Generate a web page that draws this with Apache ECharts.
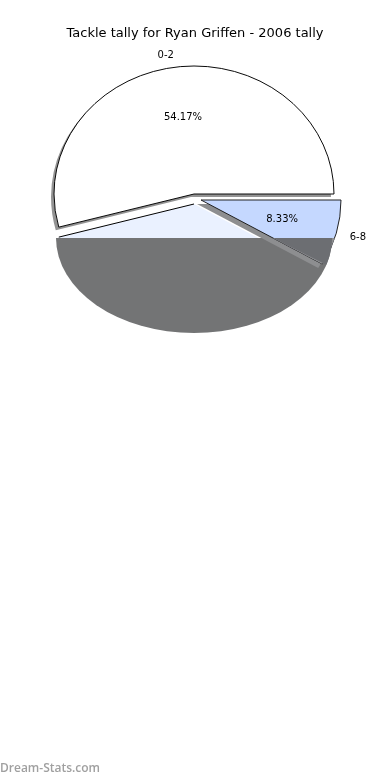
<!DOCTYPE html>
<html>
<head>
<meta charset="utf-8">
<script src="https://cdn.jsdelivr.net/npm/echarts@6/dist/echarts.min.js"></script>
<style>
html,body{margin:0;padding:0;background:#fff;}
#chart{width:390px;height:780px;}
</style>
</head>
<body>
<div id="chart"></div>
<script>
// ---- data ----
const titleText = 'Tackle tally for Ryan Griffen - 2006 tally';
const categories = ['0-2', '3-5', '6-8'];
const tallies = [13, 9, 2];
const showLabel = [true, false, true];
const watermark = 'Dream-Stats.com';

// ---- layout / style (not data) ----
const CX = 194, CY = 194, RX = 140, RY = 128;
const explode = [[0, 0], [0, 10], [7, 6]];
const fills = ['#ffffff', '#eaf1ff', '#c5d8ff'];
const OVER_TOP = 238, OVER_RX = 138, OVER_RY = 95;
const FONT = 'DejaVu Sans';
const RAD = Math.PI / 180;

const total = tallies.reduce((a, b) => a + b, 0);
const cum = [0];
tallies.forEach((v, i) => cum.push(cum[i] + v));

function ellPt(cx, cy, deg, f) {
  return [cx + f * RX * Math.cos(deg * RAD), cy - f * RY * Math.sin(deg * RAD)];
}
function sector(cx, cy, a0, a1, style, z2) {
  return {
    type: 'sector', x: cx, y: cy, scaleY: RY / RX,
    shape: { cx: 0, cy: 0, r0: 0, r: RX, startAngle: -a0 * RAD, endAngle: -a1 * RAD, clockwise: false },
    style: Object.assign({ strokeNoScale: true }, style), z2: z2
  };
}
function inOverlay(p) {
  const dx = (p[0] - CX) / OVER_RX, dy = (p[1] - OVER_TOP) / OVER_RY;
  return dx * dx + dy * dy <= 1;
}

function renderItem(params, api) {
  const i = params.dataIndex;
  const a0 = 360 * cum[i] / total;
  const a1 = 360 * cum[i + 1] / total;
  const cx = CX + explode[i][0], cy = CY + explode[i][1];
  const children = [];
  const base = i === 2 ? 20 : i * 3;
  // shadow
  if (i !== 1) {
    children.push(sector(cx - (i === 2 ? 4 : 3), cy + (i === 2 ? 4 : 3), a0, a1,
      { fill: i === 2 ? '#8d8e90' : '#939393' }, base));
  }
  if (i === 1) {
    children.push(sector(cx, cy, a0, a1, { fill: fills[i] }, base + 1));
    const e = ellPt(cx, cy, a0, 1);
    children.push({ type: 'line', shape: { x1: cx, y1: cy, x2: e[0], y2: e[1] },
      style: { stroke: '#000', lineWidth: 1 }, z2: base + 2 });
    // grey lower band
    children.push({
      type: 'sector', x: CX, y: OVER_TOP, scaleY: OVER_RY / OVER_RX,
      shape: { cx: 0, cy: 0, r0: 0, r: OVER_RX, startAngle: 0, endAngle: Math.PI, clockwise: true },
      style: { fill: '#737475' }, z2: 10
    });
  } else {
    children.push(sector(cx, cy, a0, a1,
      { fill: fills[i], stroke: i === 2 ? '#1a1a1a' : '#000', lineWidth: 1 }, base + 1));
  }
  if (i === 2) {
    // part of this wedge below the grey band's top edge
    const e = ellPt(cx, cy, a0, 1);
    const t0 = (OVER_TOP - cy) / (e[1] - cy);
    const startPt = [cx + t0 * (e[0] - cx), OVER_TOP];
    const sinLim = -(OVER_TOP - cy) / RY;
    const aLim = Math.asin(Math.max(-1, Math.min(1, sinLim))) / RAD + 360;
    const light = [startPt];
    const n = 16;
    for (let k = 0; k <= n; k++) light.push(ellPt(cx, cy, aLim + (a0 - aLim) * k / n, 1));
    children.push({ type: 'polygon', shape: { points: light }, style: { fill: '#8d8e90' }, z2: 30 });
    // darker part inside the grey band
    let lo = t0, hi = 1;
    for (let k = 0; k < 40; k++) {
      const m = (lo + hi) / 2;
      const p = [cx + m * (e[0] - cx), cy + m * (e[1] - cy)];
      if (inOverlay(p)) lo = m; else hi = m;
    }
    const endPt = [cx + lo * (e[0] - cx), cy + lo * (e[1] - cy)];
    const endAng = Math.atan2((endPt[1] - OVER_TOP) / OVER_RY, (endPt[0] - CX) / OVER_RX);
    const dark = [startPt];
    for (let k = 0; k <= n; k++) {
      const ang = endAng * k / n;
      dark.push([CX + OVER_RX * Math.cos(ang), OVER_TOP + OVER_RY * Math.sin(ang)]);
    }
    children.push({ type: 'polygon', shape: { points: dark }, style: { fill: '#6c6e72' }, z2: 31 });
  }
  if (showLabel[i]) {
    const mid = (a0 + a1) / 2;
    const pp = ellPt(cx, cy, mid, 0.6);
    const pct = (100 * tallies[i] / total).toFixed(2) + '%';
    children.push({
      type: 'text', x: pp[0], y: pp[1],
      style: { text: pct, fontFamily: FONT, fontSize: 10, fill: '#000', align: 'center', verticalAlign: 'middle' },
      z2: 40
    });
    const lp = ellPt(cx, cy, mid, 1.1);
    children.push({
      type: 'text', x: lp[0], y: lp[1] + 1,
      style: { text: categories[i], fontFamily: FONT, fontSize: 10, fill: '#000',
        align: lp[0] < cx ? 'right' : 'left', verticalAlign: 'middle' },
      z2: 40
    });
  }
  return { type: 'group', children: children };
}

const chart = echarts.init(document.getElementById('chart'), null, { renderer: 'canvas' });
chart.setOption({
  animation: false,
  backgroundColor: '#ffffff',
  title: {
    text: titleText, left: 'center', top: 22,
    textStyle: { fontFamily: FONT, fontSize: 13, fontWeight: 'normal', color: '#000' }
  },
  graphic: [{
    type: 'text', left: 0, top: 763,
    style: { text: watermark, fontFamily: 'Open Sans', fontWeight: 600, fontSize: 12, fill: '#a0a0a0' }
  }],
  series: [{
    type: 'custom',
    coordinateSystem: 'none',
    renderItem: renderItem,
    data: tallies.map((v, i) => ({ name: categories[i], value: v }))
  }]
});
</script>
</body>
</html>
